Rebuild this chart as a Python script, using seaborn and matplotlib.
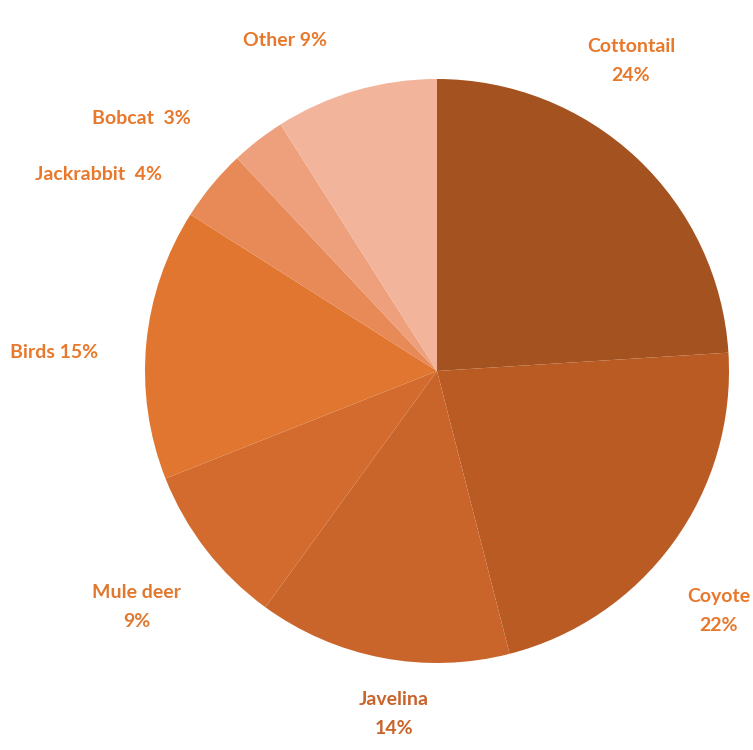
import seaborn as sns
import matplotlib.pyplot as plt

# diet composition
labels = ["Cottontail", "Coyote", "Javelina", "Mule deer", "Birds",
          "Jackrabbit", "Bobcat", "Other"]
shares = [24, 22, 14, 9, 15, 4, 3, 9]
label_texts = ["Cottontail\n24%", "Coyote\n22%", "Javelina\n14%", "Mule deer\n9%",
               "Birds 15%", "Jackrabbit  4%", "Bobcat  3%", "Other 9%"]

slice_colors = ["#A4521F", "#BA5B23", "#C9642A", "#D36B2E", "#E0762F",
                "#E88A57", "#EEA07C", "#F2B49B"]

sns.set_style("white")
plt.rcParams['font.family'] = ['Lato', 'DejaVu Sans']

fig = plt.figure(figsize=(7.53, 7.5), dpi=100)
ax = fig.add_axes([0, 0, 1, 1])
ax.axis('off')

ax.pie(shares, colors=slice_colors, startangle=90, counterclock=False,
       center=(437, 379), radius=292, wedgeprops=dict(linewidth=0))
ax.set_xlim(0, 753)
ax.set_ylim(0, 750)
ax.set_aspect('equal')

# label positions in pixels from the top-left
label_pos = [(631, 61), (719, 611), (394, 714), (137, 607),
             (54, 353), (99, 174), (141, 118), (285, 40)]
label_colors = ["#E8782C", "#E8782C", "#C8642A", "#E0782F",
                "#E8782C", "#E8782C", "#E8782C", "#E8782C"]
for txt, (x, y), c in zip(label_texts, label_pos, label_colors):
    ax.text(x, 750 - y, txt, ha='center', va='center', fontsize=14,
            fontweight='bold', color=c, linespacing=1.85)

fig.savefig("out.png", dpi=100)
